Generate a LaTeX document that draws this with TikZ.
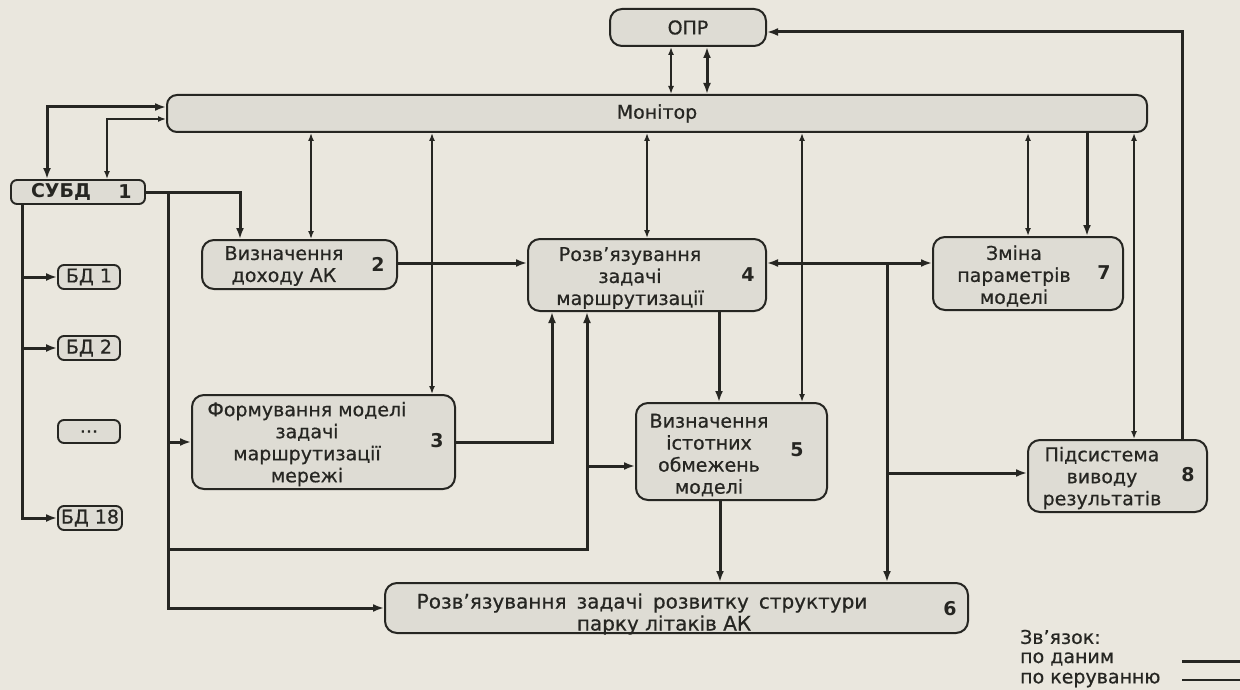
\documentclass[tikz,border=0pt]{standalone}
\usepackage{fontspec}
\setmainfont[FakeBold=0.6]{DejaVu Sans}
\newfontfamily\numfont{DejaVu Sans Bold}
\usetikzlibrary{arrows.meta}
\definecolor{paper}{RGB}{234,231,222}
\definecolor{boxfill}{RGB}{222,220,212}
\definecolor{ink}{RGB}{38,38,34}
\begin{document}
\begin{tikzpicture}[x=1pt,y=-1pt,
  box/.style={draw=ink, fill=boxfill, line width=2pt, rounded corners=12pt, inner sep=0pt},
  sbox/.style={draw=ink, fill=boxfill, line width=1.9pt, rounded corners=6pt, inner sep=0pt},
  txt/.style={font=\fontsize{19}{22}\selectfont, align=center, inner sep=0pt, text=ink},
  num/.style={font=\fontsize{19}{22}\selectfont\numfont, inner sep=0pt, text=ink},
  data/.style={draw=ink, line width=3pt},
  ctrl/.style={draw=ink, line width=1.5pt},
  dend/.style={-{Latex[length=11pt,width=8pt]}},
  dboth/.style={{Latex[length=11pt,width=8pt]}-{Latex[length=11pt,width=8pt]}},
  cboth/.style={{Latex[length=8pt,width=6pt]}-{Latex[length=8pt,width=6pt]}},
]
\fill[paper] (0,0) rectangle (1240,690);
\useasboundingbox (0,0) rectangle (1240,690);

% ---------- boxes ----------
\node[box, minimum width=156pt, minimum height=37pt, txt] (opr) at (688,27.5) {ОПР};
\node[box, rounded corners=10pt, minimum width=980pt, minimum height=37pt, txt] (mon) at (657,113.5) {Монітор};
\node[sbox, minimum width=134pt, minimum height=24pt] (subd) at (78,192) {};
\node[num] (subdt) at (61,192) {СУБД};
\node[num] (subdn) at (125,192) {1};
\node[sbox, minimum width=62pt, minimum height=24pt, txt] (bd1) at (89,277) {БД 1};
\node[sbox, minimum width=62pt, minimum height=24pt, txt] (bd2) at (89,348) {БД 2};
\node[sbox, minimum width=62pt, minimum height=23pt, txt] (bdx) at (89,431.5) {...};
\node[sbox, minimum width=64pt, minimum height=24pt, txt] (bd18) at (90,518) {БД 18};

\node[box, minimum width=195pt, minimum height=49pt] (b2) at (299.5,264.5) {};
\node[txt] (b2t) at (284,266) {Визначення\\доходу АК};
\node[num] (b2n) at (378,264) {2};

\node[box, minimum width=238pt, minimum height=72pt] (b4) at (647,275) {};
\node[txt] (b4t) at (630,278) {Розв’язування\\задачі\\маршрутизації};
\node[num] (b4n) at (748,275) {4};

\node[box, minimum width=190pt, minimum height=73pt] (b7) at (1028,273.5) {};
\node[txt] (b7t) at (1014,276) {Зміна\\параметрів\\моделі};
\node[num] (b7n) at (1104,273) {7};

\node[box, minimum width=263pt, minimum height=94pt] (b3) at (323.5,442) {};
\node[txt] (b3t) at (307,444) {Формування моделі\\задачі\\маршрутизації\\мережі};
\node[num] (b3n) at (437,441) {3};

\node[box, minimum width=191pt, minimum height=97pt] (b5) at (731.5,451.5) {};
\node[txt] (b5t) at (709,455) {Визначення\\істотних\\обмежень\\моделі};
\node[num] (b5n) at (797,450) {5};

\node[box, minimum width=179pt, minimum height=72pt] (b8) at (1117.5,476) {};
\node[txt] (b8t) at (1102,478) {Підсистема\\виводу\\результатів};
\node[num] (b8n) at (1188,475) {8};

\node[box, minimum width=583pt, minimum height=50pt] (b6) at (676.5,608) {};
\node[txt, font=\fontsize{20}{22}\selectfont] (b6t) at (642,614) {\spaceskip=10pt\relax Розв’язування задачі розвитку структури\\\hspace*{44pt}парку літаків АК};
\node[num] (b6n) at (950,609) {6};

% ---------- helper coordinates ----------
\coordinate (x671) at (671,0);
\coordinate (x707) at (707,0);
\coordinate (r1) at (1182,32);
\coordinate (k1) at (47,107);
\coordinate (k2) at (107,119);
\coordinate (k3) at (240,192);
\coordinate (v1) at (168,192);
\coordinate (v3) at (168,549);
\coordinate (v4) at (587,549);
\coordinate (j1) at (587,466);
\coordinate (x311) at (311,0);
\coordinate (x432) at (432,0);
\coordinate (x647) at (647,0);
\coordinate (x802) at (802,0);
\coordinate (x1028) at (1028,0);
\coordinate (x1087) at (1087,0);
\coordinate (x1134) at (1134,0);
\coordinate (y263) at (0,263);
\coordinate (k5) at (552,442);
\coordinate (k6) at (887,263);
\coordinate (y473) at (0,473);
\coordinate (x719) at (719,0);
\coordinate (x720) at (720,0);
\coordinate (w) at (22,0);

% ---------- connectors ----------
\draw[ctrl, cboth] (opr.south -| x671) -- (mon.north -| x671);
\draw[data, dboth] (opr.south -| x707) -- (mon.north -| x707);
\draw[data, dend] (b8.north -| r1) -- (r1) -- (opr.east |- r1);

\draw[data, dboth] (subd.north -| k1) -- (k1) -- (mon.west |- k1);
\draw[ctrl, cboth] (subd.north -| k2) -- (k2) -- (mon.west |- k2);

\draw[data, dend] (subd.east) -- (k3) -- (b2.north -| k3);
\draw[data, dend] (v1) |- (b6.west);
\draw[data, dend] (v1 |- b3.west) -- (b3.west);
\draw[data, dend] (v3) -- (v4) -- (b4.south -| v4);
\draw[data, dend] (j1) -- (b5.west |- j1);

\draw[ctrl, cboth] (mon.south -| x311) -- (b2.north -| x311);
\draw[ctrl, cboth] (mon.south -| x432) -- (b3.north -| x432);
\draw[ctrl, cboth] (mon.south -| x647) -- (b4.north -| x647);
\draw[ctrl, cboth] (mon.south -| x802) -- (b5.north -| x802);
\draw[ctrl, cboth] (mon.south -| x1028) -- (b7.north -| x1028);
\draw[data, dend] (mon.south -| x1087) -- (b7.north -| x1087);
\draw[ctrl, cboth] (mon.south -| x1134) -- (b8.north -| x1134);

\draw[data, dend] (b2.east |- y263) -- (b4.west |- y263);
\draw[data, dend] (b3.east |- k5) -- (k5) -- (b4.south -| k5);
\draw[data, dboth] (b4.east |- y263) -- (b7.west |- y263);
\draw[data, dend] (k6) -- (b6.north -| k6);
\draw[data, dend] (k6 |- y473) -- (b8.west |- y473);
\draw[data, dend] (b4.south -| x719) -- (b5.north -| x719);
\draw[data, dend] (b5.south -| x720) -- (b6.north -| x720);

\draw[data, dend] (subd.south -| w) |- (bd18.west);
\draw[data, dend] (w |- bd1.west) -- (bd1.west);
\draw[data, dend] (w |- bd2.west) -- (bd2.west);

% ---------- legend ----------
\node[txt, anchor=west] (lg1) at (1020,637) {Зв’язок:};
\node[txt, anchor=west] (lg2) at (1020,659) {по даним};
\node[txt, anchor=west] (lg3) at (1020,680) {по керуванню};
\coordinate (la) at (1182,661);
\coordinate (lb) at (1240,661);
\coordinate (lc) at (1182,680);
\coordinate (ld) at (1240,680);
\draw[data] (la) -- (lb);
\draw[ctrl] (lc) -- (ld);
\end{tikzpicture}
\end{document}
